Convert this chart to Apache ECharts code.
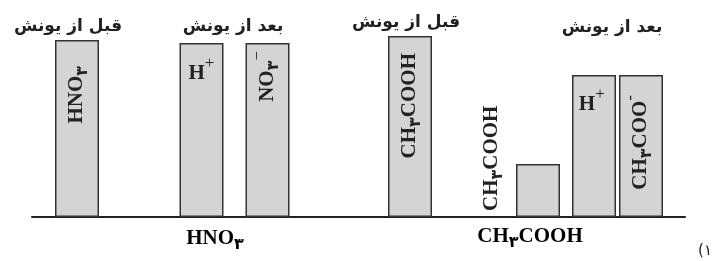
<!DOCTYPE html>
<html>
<head>
<meta charset="utf-8">
<script src="https://cdn.jsdelivr.net/npm/echarts@6/dist/echarts.min.js"></script>
<style>
  html, body { margin: 0; padding: 0; background: #fff; }
  #chart { width: 718px; height: 261px; }
</style>
</head>
<body>
<div id="chart"></div>
<script>
// 数据
var stageTitles = ['قبل از یونش', 'بعد از یونش', 'قبل از یونش', 'بعد از یونش'];
var acidNames = ['HNO۳', 'CH۳COOH'];
var species = ['HNO۳', 'H+', 'NO۳−', 'CH۳COOH', 'CH۳COOH', 'H+', 'CH۳COO-'];
var amounts = [177, 174, 174, 181, 53, 142, 142];
var choiceLabel = '(۱';

// layout (x slot of each bar on the hidden value axis, px from grid left)
var barSlots = [45, 169.5, 235.5, 378, 506, 562, 609];
var labelCfg = [
    {rotate: 90, position: ['50%', 26], align: 'right'},
    {rotate: 0, position: ['50%', 31], align: 'center'},
    {rotate: 90, position: ['50%', 8], align: 'right'},
    {rotate: 90, position: ['50%', 17], align: 'right'},
    {rotate: 90, position: [-24, 47], align: 'left'},
    {rotate: 0, position: ['45%', 30], align: 'center'},
    {rotate: 90, position: ['50%', 20], align: 'right'}
];

var richStyles = {
    b: {fontFamily: '"Liberation Serif", serif', fontWeight: 'bold', fontSize: 21, color: '#222', lineHeight: 22},
    s: {fontFamily: '"DejaVu Sans"', fontWeight: 'bold', fontSize: 16, color: '#222', lineHeight: 16, padding: [12, 0, 0, 0]},
    p: {fontFamily: '"Liberation Serif", serif', fontSize: 17, color: '#222', lineHeight: 14, padding: [0, 0, 20, 0]}
};

// 化学式转富文本
function toRich(name) {
    return name.replace(/[A-Z]+/g, '{b|$&}')
        .replace(/۳/g, '{s|۳}')
        .replace(/[+\-−]$/, function (c) { return '{p|' + c + '}'; });
}

var barData = amounts.map(function (v, i) {
    var cfg = labelCfg[i];
    return {
        value: [barSlots[i], v],
        label: {
            show: true,
            formatter: toRich(species[i]),
            rotate: cfg.rotate,
            position: cfg.position,
            align: cfg.align,
            verticalAlign: 'middle',
            rich: richStyles
        }
    };
});

var titlePos = [[68, 27], [233, 27], [406, 23], [612, 28]];
var acidPos = [[215, 239], [530, 237]];

var graphics = [];
stageTitles.forEach(function (t, i) {
    graphics.push({
        type: 'text', x: titlePos[i][0], y: titlePos[i][1],
        style: {text: t, font: 'bold 17px "DejaVu Sans"', fill: '#222', align: 'center', verticalAlign: 'middle'}
    });
});
acidNames.forEach(function (t, i) {
    graphics.push({
        type: 'text', x: acidPos[i][0], y: acidPos[i][1],
        style: {text: toRich(t), rich: richStyles, align: 'center', verticalAlign: 'middle'}
    });
});
graphics.push({
    type: 'text', x: 705, y: 251,
    style: {text: choiceLabel, font: '15px "DejaVu Sans"', fill: '#222', align: 'center', verticalAlign: 'middle'}
});

var myChart = echarts.init(document.getElementById('chart'));
myChart.setOption({
    animation: false,
    grid: {left: 32, right: 33, top: 17, bottom: 44},
    xAxis: {
        type: 'value', min: 0, max: 653,
        axisLine: {show: true, lineStyle: {color: '#222', width: 2}},
        axisTick: {show: false},
        axisLabel: {show: false},
        splitLine: {show: false}
    },
    yAxis: {
        type: 'value', min: 0, max: 200, show: false
    },
    series: [{
        type: 'bar',
        barWidth: 44,
        itemStyle: {color: '#d4d4d4', borderColor: '#333', borderWidth: 1.5},
        data: barData
    }],
    graphic: graphics
});
</script>
</body>
</html>
